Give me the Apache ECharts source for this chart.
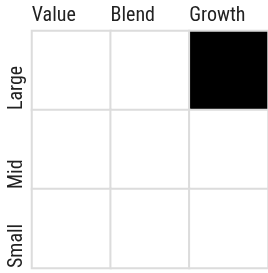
<!DOCTYPE html>
<html lang="en">
<head>
<meta charset="UTF-8">
<script src="https://cdn.jsdelivr.net/npm/echarts@6/dist/echarts.min.js"></script>
<style>
    html, body {margin: 0; padding: 0; background: #fff;}
    #box {width: 268px; height: 273px;}
</style>
</head>
<body>
<div id="box"></div>
<script>
    // style box categories
    var styles = ['Value', 'Blend', 'Growth'];
    var sizes = ['Large', 'Mid', 'Small'];
    // 1 = filled cell, rows follow sizes, columns follow styles
    var fill = [
        [0, 0, 1],
        [0, 0, 0],
        [0, 0, 0]
    ];

    var cells = [];
    for (var r = 0; r < sizes.length; r++) {
        for (var c = 0; c < styles.length; c++) {
            cells.push({
                value: [c, r, fill[r][c]],
                itemStyle: {color: fill[r][c] ? '#000' : '#fff'}
            });
        }
    }

    var chart = echarts.init(document.getElementById('box'));
    var font = '"Roboto Condensed", "Roboto", sans-serif';
    chart.setOption({
        animation: false,
        grid: {left: 32, top: 31, right: 0, bottom: 5},
        xAxis: {
            type: 'category', position: 'top', data: styles,
            axisLine: {show: false}, axisTick: {show: false},
            axisLabel: {
                margin: 5,
                formatter: function (v) { return '{t|' + v + '}'; },
                rich: {t: {color: '#222', fontSize: 20, fontFamily: font, width: 79, align: 'left'}}
            }
        },
        yAxis: {
            type: 'category', inverse: true, data: sizes,
            axisLine: {show: false}, axisTick: {show: false},
            axisLabel: {
                rotate: 90, margin: 5,
                formatter: function (v) { return '{t|' + v + '}'; },
                rich: {t: {color: '#222', fontSize: 20, fontFamily: font, width: 79, align: 'left'}}
            }
        },
        series: [{
            type: 'heatmap',
            data: cells,
            itemStyle: {borderColor: '#dcdcdc', borderWidth: 2}
        }]
    });
</script>
</body>
</html>
